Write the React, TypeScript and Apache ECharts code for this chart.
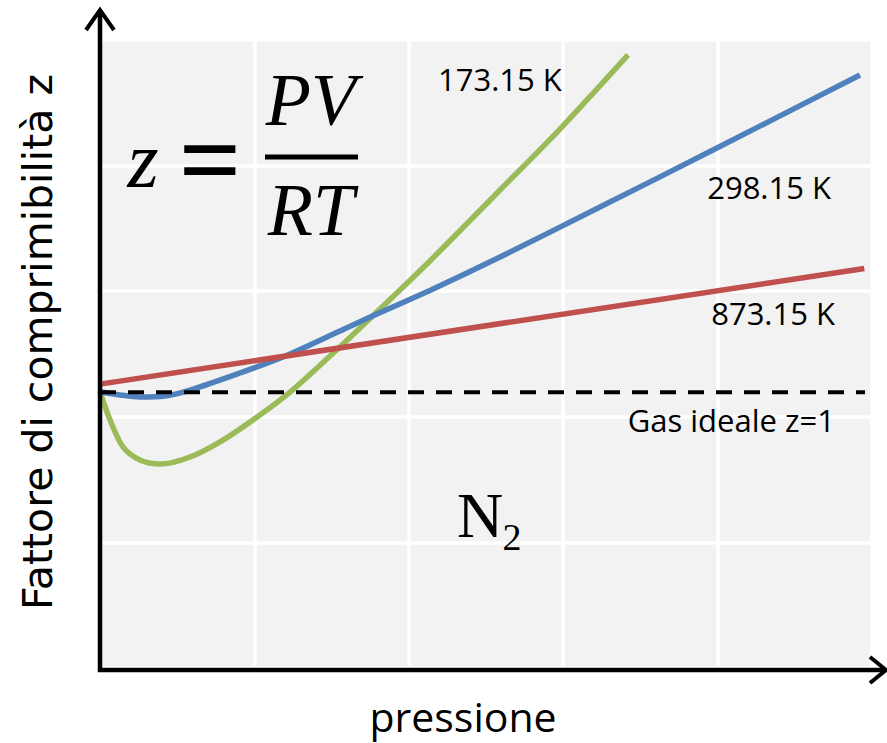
import React, { useEffect, useRef } from "react";
import * as echarts from "echarts";

// pressure (arbitrary units, 0..5) and compressibility (arbitrary units, 0..5)
const pressure173 = [0, 0.065, 0.149, 0.259, 0.389, 0.583, 0.797, 1.017, 1.231, 1.49, 1.749, 2.137, 2.591, 2.979, 3.42];
const z173 = [2.2, 1.975, 1.76, 1.656, 1.624, 1.68, 1.815, 1.998, 2.197, 2.484, 2.783, 3.241, 3.806, 4.291, 4.881];

const pressure298 = [0, 0.13, 0.259, 0.421, 0.583, 0.907, 1.185, 1.554, 1.736, 2.157, 2.591, 3.238, 3.97, 4.922];
const z298 = [2.2, 2.174, 2.158, 2.166, 2.213, 2.349, 2.476, 2.683, 2.787, 3.018, 3.272, 3.67, 4.124, 4.721];

const pressure873 = [0, 4.95];
const z873 = [2.26, 3.18];

const pressureIdeal = [0, 4.955];
const zIdeal = [2.195, 2.195];

const seriesNames = ["173.15 K", "298.15 K", "873.15 K", "Gas ideale z=1"];
const seriesColors = ["#9BBB59", "#4F81BD", "#C0504D", "#000000"];

const pairs = (xs: number[], ys: number[]) => xs.map((x, i) => [x, ys[i]]);

export default function App() {
  const ref = useRef<HTMLDivElement>(null);
  useEffect(() => {
    document.body.style.margin = "0";
    const chart = echarts.init(ref.current!, undefined, { renderer: "svg" });
    const labelFont = { fontFamily: "Open Sans", fontSize: 31, fill: "#000" };
    chart.setOption({
      animation: false,
      backgroundColor: "#ffffff",
      grid: {
        left: 100,
        right: 15,
        top: 40,
        bottom: 75,
        show: true,
        backgroundColor: "#F2F2F2",
        borderWidth: 0,
      },
      xAxis: {
        type: "value",
        min: 0,
        max: 5,
        interval: 1,
        axisLine: { show: false },
        axisTick: { show: false },
        axisLabel: { show: false },
        splitLine: { lineStyle: { color: "#ffffff", width: 3.5 } },
      },
      yAxis: {
        type: "value",
        min: 0,
        max: 5,
        interval: 1,
        axisLine: { show: false },
        axisTick: { show: false },
        axisLabel: { show: false },
        splitLine: { lineStyle: { color: "#ffffff", width: 3.5 } },
      },
      series: [
        {
          name: seriesNames[0],
          type: "line",
          data: pairs(pressure173, z173),
          smooth: 0.3,
          showSymbol: false,
          lineStyle: { color: seriesColors[0], width: 5.5 },
          z: 2,
        },
        {
          name: seriesNames[1],
          type: "line",
          data: pairs(pressure298, z298),
          smooth: 0.3,
          showSymbol: false,
          lineStyle: { color: seriesColors[1], width: 5.5 },
          z: 3,
        },
        {
          name: seriesNames[2],
          type: "line",
          data: pairs(pressure873, z873),
          showSymbol: false,
          lineStyle: { color: seriesColors[2], width: 5.5 },
          z: 4,
        },
        {
          name: seriesNames[3],
          type: "line",
          data: pairs(pressureIdeal, zIdeal),
          showSymbol: false,
          lineStyle: { color: seriesColors[3], width: 4, type: [16, 12] },
          z: 5,
        },
      ],
      graphic: [
        // axes with open arrowheads
        { type: "line", z: 100, shape: { x1: 100, y1: 10, x2: 100, y2: 672 }, style: { stroke: "#000", lineWidth: 4.5 } },
        { type: "polyline", z: 100, shape: { points: [[86, 30], [100, 10], [114, 30]] }, style: { stroke: "#000", lineWidth: 4, fill: "none" } },
        { type: "line", z: 100, shape: { x1: 98, y1: 670, x2: 885, y2: 670 }, style: { stroke: "#000", lineWidth: 4.5 } },
        { type: "polyline", z: 100, shape: { points: [[870, 657], [886, 670], [870, 683]] }, style: { stroke: "#000", lineWidth: 4, fill: "none" } },
        // axis titles
        {
          type: "text",
          z: 100,
          x: 38,
          y: 342,
          rotation: Math.PI / 2,
          style: { text: "Fattore di comprimibilità z", fontFamily: "DejaVu Sans", fontSize: 41, fill: "#000", align: "center", verticalAlign: "middle" },
        },
        {
          type: "text",
          z: 100,
          x: 463,
          y: 716,
          style: { text: "pressione", fontFamily: "Open Sans", fontSize: 41, fill: "#000", align: "center", verticalAlign: "middle" },
        },
        // series labels
        { type: "text", z: 100, x: 438, y: 79, style: { ...labelFont, text: seriesNames[0], align: "left", verticalAlign: "middle" } },
        { type: "text", z: 100, x: 831, y: 187, style: { ...labelFont, text: seriesNames[1], align: "right", verticalAlign: "middle" } },
        { type: "text", z: 100, x: 835, y: 313, style: { ...labelFont, text: seriesNames[2], align: "right", verticalAlign: "middle" } },
        { type: "text", z: 100, x: 835, y: 420, style: { ...labelFont, text: seriesNames[3], align: "right", verticalAlign: "middle" } },
        // formula z = PV / RT
        { type: "text", z: 100, x: 143, y: 160, style: { text: "z", fontFamily: "Liberation Serif", fontStyle: "italic", fontSize: 80, fill: "#000", align: "center", verticalAlign: "middle" } },
        { type: "text", z: 100, x: 210, y: 160, style: { text: "=", fontFamily: "Liberation Serif", fontWeight: "bold", fontSize: 110, fill: "#000", align: "center", verticalAlign: "middle" } },
        { type: "line", z: 100, shape: { x1: 265, y1: 157, x2: 358, y2: 157 }, style: { stroke: "#000", lineWidth: 5 } },
        { type: "text", z: 100, x: 311, y: 100, style: { text: "PV", fontFamily: "Liberation Serif", fontStyle: "italic", fontSize: 74, fill: "#000", align: "center", verticalAlign: "middle" } },
        { type: "text", z: 100, x: 311, y: 210, style: { text: "RT", fontFamily: "Liberation Serif", fontStyle: "italic", fontSize: 74, fill: "#000", align: "center", verticalAlign: "middle" } },
        // N2
        { type: "text", z: 100, x: 480, y: 515, style: { text: "N", fontFamily: "Liberation Serif", fontSize: 64, fill: "#000", align: "center", verticalAlign: "middle" } },
        { type: "text", z: 100, x: 512, y: 537, style: { text: "2", fontFamily: "Liberation Serif", fontSize: 38, fill: "#000", align: "center", verticalAlign: "middle" } },
      ],
    });
    return () => chart.dispose();
  }, []);
  return <div ref={ref} style={{ width: 887, height: 743 }} />;
}
